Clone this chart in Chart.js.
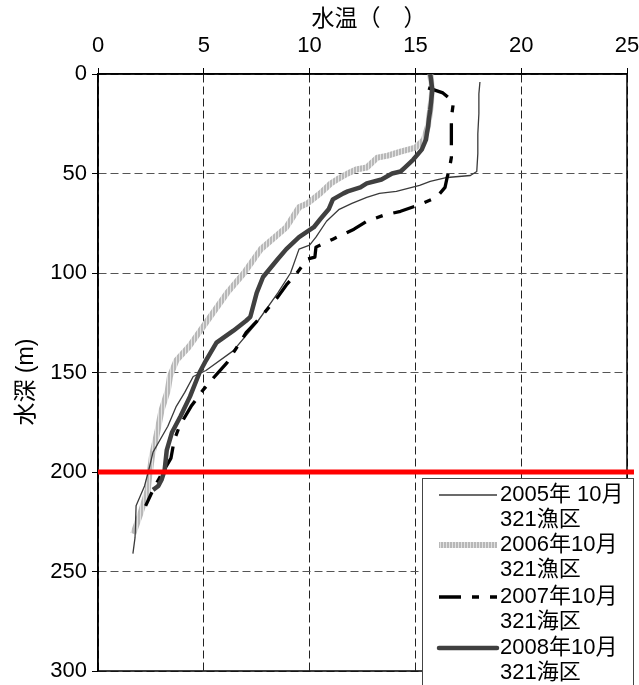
<!DOCTYPE html>
<html><head><meta charset="utf-8">
<script src="https://cdn.jsdelivr.net/npm/chart.js@4.4.1/dist/chart.umd.min.js"></script>
<style>html,body{margin:0;padding:0;background:#fff;} #wrap{width:639px;height:685px;position:relative;}</style>
</head><body><div id="wrap"><canvas id="c"></canvas></div>
<script>
// ---- data ----
const xTicks = [0, 5, 10, 15, 20, 25];
const yTicks = [0, 50, 100, 150, 200, 250, 300];
const xTitle = '  水温（　）';
const yTitle = '水深 (m)   ';
const seriesNames = [['2005年 10月', '321漁区'], ['2006年10月', '321漁区'], ['2007年10月', '321海区'], ['2008年10月', '321海区']];

const depth2005 = [4, 10, 20, 30, 40, 49, 51, 52, 54, 56, 59, 60, 62, 65, 68, 74, 82, 86, 88, 100, 110, 125, 139, 149, 152, 160, 167, 177, 190, 199, 207, 217, 233, 241];
const temp2005  = [18.05, 18.0, 18.0, 17.95, 17.95, 17.9, 17.6, 16.5, 15.7, 15.2, 14.1, 13.3, 12.7, 12.0, 11.4, 10.8, 10.3, 10.0, 9.5, 9.1, 8.5, 7.5, 6.4, 5.1, 4.5, 4.1, 3.7, 3.3, 2.6, 2.4, 2.2, 1.8, 1.75, 1.65];

const depth2006 = [0, 8, 18, 26, 33, 37, 39, 41, 42, 47, 48, 50, 53, 55, 60, 65, 67, 77, 88, 100, 110, 125, 137, 144, 152, 159, 169, 180, 192, 204, 209, 221, 231];
const temp2006  = [15.7, 15.8, 15.7, 15.6, 15.4, 15.0, 14.3, 13.7, 13.2, 12.7, 12.2, 11.8, 11.3, 11.0, 10.5, 9.9, 9.5, 8.9, 7.7, 6.9, 6.1, 5.1, 4.3, 3.7, 3.4, 3.3, 3.0, 2.8, 2.55, 2.4, 2.35, 2.0, 1.67];

const depth2007 = [7, 9.5, 14, 22, 33, 42, 48, 52, 57, 62, 66, 69, 71, 74, 78, 83, 87, 92, 93, 100, 106, 112, 122, 130, 135, 145, 154, 159, 167, 177, 184, 193, 204, 209, 217];
const temp2007  = [15.6, 16.3, 16.8, 16.7, 16.7, 16.7, 16.6, 16.5, 16.4, 16.0, 15.1, 14.3, 13.5, 12.7, 12.1, 11.1, 10.3, 10.25, 9.9, 9.4, 8.9, 8.5, 7.7, 7.0, 6.7, 6.1, 5.35, 4.95, 4.4, 3.85, 3.6, 3.45, 2.85, 2.6, 2.25];

const depth2008 = [0, 8, 18, 26, 33, 38, 43, 47, 49, 50, 53, 55, 57, 59, 60, 63, 68, 73, 77, 82, 88, 93, 102, 110, 122, 124, 129, 135, 144, 150, 162, 172, 180, 189, 199, 204, 207, 209];
const temp2008  = [15.7, 15.8, 15.7, 15.6, 15.5, 15.3, 14.9, 14.5, 14.3, 13.9, 13.4, 12.7, 12.4, 11.8, 11.6, 11.1, 10.9, 10.5, 10.2, 9.5, 8.9, 8.5, 7.8, 7.5, 7.2, 7.0, 6.4, 5.6, 5.1, 4.8, 4.35, 3.9, 3.5, 3.25, 3.15, 3.0, 2.85, 2.6];

const refDepth = [200, 200];
const refTemp  = [0, 25.33];

// ---- helpers ----
const toPts = (t, d) => t.map((v, i) => ({x: v, y: d[i]}));
const FONT = "'Liberation Sans', Arial, 'Noto Sans CJK JP', sans-serif";

const pc = document.createElement('canvas');
pc.width = 3; pc.height = 1;
const pctx = pc.getContext('2d');
pctx.fillStyle = '#b8b8b8'; pctx.fillRect(0, 0, 2, 1);
pctx.fillStyle = '#e2e2e2'; pctx.fillRect(2, 0, 1, 1);
const hatch = document.getElementById('c').getContext('2d').createPattern(pc, 'repeat');

const frame = {
  id: 'frame',
  beforeDatasetsDraw(chart) {
    const a = chart.chartArea, ctx = chart.ctx;
    ctx.save();
    ctx.strokeStyle = '#000'; ctx.lineWidth = 1.5;
    ctx.strokeRect(a.left, a.top, a.right - a.left, a.bottom - a.top);
    ctx.restore();
  }
};

const legend = {
  id: 'customLegend',
  afterDraw(chart) {
    const ctx = chart.ctx;
    ctx.save();
    ctx.fillStyle = '#fff'; ctx.fillRect(422.5, 478.5, 211, 230);
    ctx.strokeStyle = '#444'; ctx.lineWidth = 1; ctx.strokeRect(422.5, 478.5, 211, 230);
    const ys = [495, 545, 597, 648];
    for (let i = 0; i < 4; i++) {
      const ds = chart.data.datasets[i];
      ctx.save();
      ctx.strokeStyle = ds.borderColor; ctx.lineWidth = ds.borderWidth;
      ctx.setLineDash(ds.borderDash || []);
      ctx.lineCap = i === 3 ? 'round' : 'butt';
      ctx.beginPath(); ctx.moveTo(439, ys[i]); ctx.lineTo(497, ys[i]); ctx.stroke();
      ctx.restore();
      ctx.fillStyle = '#000'; ctx.font = '22px ' + FONT; ctx.textBaseline = 'middle';
      ctx.fillText(seriesNames[i][0], 500, ys[i]);
      ctx.fillText(seriesNames[i][1], 500, ys[i] + 25);
    }
    ctx.restore();
  }
};

new Chart(document.getElementById('c'), {
  type: 'line',
  data: {
    datasets: [
      {label: seriesNames[0].join(' '), data: toPts(temp2005, depth2005), borderColor: '#3a3a3a', borderWidth: 1.3, order: 3},
      {label: seriesNames[1].join(' '), data: toPts(temp2006, depth2006), borderColor: hatch, borderWidth: 6, order: 4},
      {label: seriesNames[2].join(' '), data: toPts(temp2007, depth2007), borderColor: '#000', borderWidth: 3.3, borderDash: [22, 11, 7, 11], order: 2},
      {label: seriesNames[3].join(' '), data: toPts(temp2008, depth2008), borderColor: '#404040', borderWidth: 4.5, order: 1},
      {label: 'ref', data: toPts(refTemp, refDepth), borderColor: '#ff0000', borderWidth: 5, order: 0, clip: false}
    ]
  },
  options: {
    responsive: true, maintainAspectRatio: false, animation: false,
    layout: {padding: {top: 0, left: 0, right: 12, bottom: 14}},
    elements: {point: {radius: 0}, line: {tension: 0, borderJoinStyle: 'round', fill: false}},
    plugins: {legend: {display: false}, tooltip: {enabled: false}},
    scales: {
      x: {
        type: 'linear', position: 'top', min: 0, max: 25,
        afterBuildTicks: s => { s.ticks = xTicks.map(v => ({value: v})); },
        afterFit: s => { s.height = 74; s.paddingLeft = 0; s.paddingRight = 0; },
        ticks: {color: '#000', font: {family: FONT, size: 22}, padding: 9, maxRotation: 0},
        grid: {color: '#222', lineWidth: 1, tickLength: 6, tickColor: '#000', tickBorderDash: []},
        border: {display: true, color: '#000', width: 1.5, dash: [8, 4]},
        title: {display: true, text: xTitle, color: '#000', font: {family: FONT, size: 23}, padding: {top: 6, bottom: 0}}
      },
      y: {
        type: 'linear', reverse: true, min: 0, max: 300,
        afterBuildTicks: s => { s.ticks = yTicks.map(v => ({value: v})); },
        afterFit: s => { s.width = 98; s.paddingTop = 0; s.paddingBottom = 0; },
        ticks: {color: '#000', font: {family: FONT, size: 22}, padding: 5},
        grid: {color: '#555', lineWidth: 1, tickLength: 6, tickColor: '#000', tickBorderDash: []},
        border: {display: true, color: '#000', width: 1.5, dash: [8, 4]},
        title: {display: true, text: yTitle, color: '#000', font: {family: FONT, size: 23}, padding: {top: 13, bottom: 0}}
      }
    }
  },
  plugins: [frame, legend]
});
</script>
</body></html>
